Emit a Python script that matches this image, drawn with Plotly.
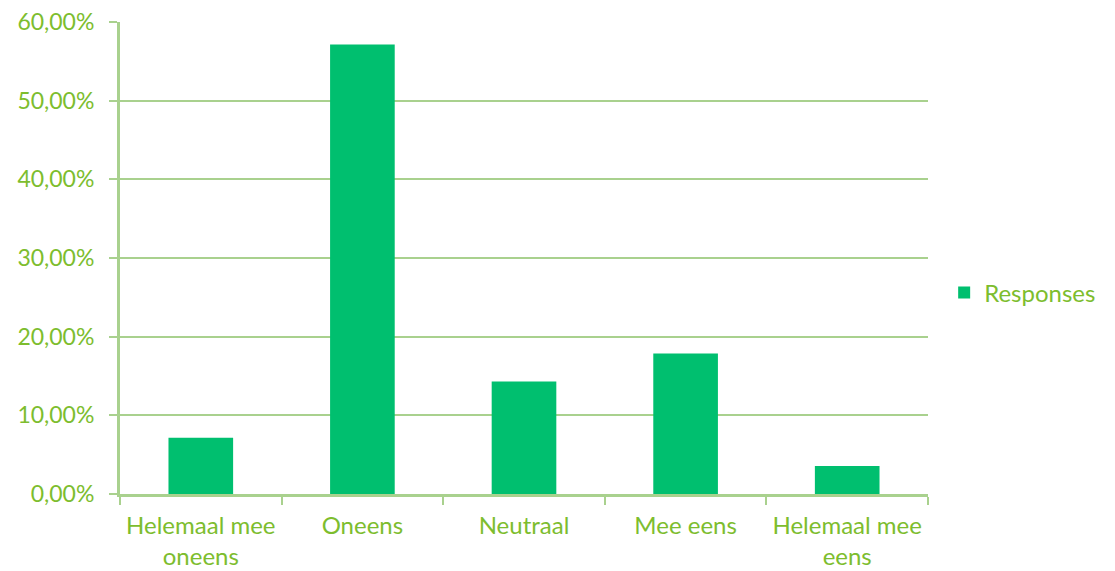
import plotly.graph_objects as go

categories = ["Helemaal mee<br>oneens", "Oneens", "Neutraal", "Mee eens", "Helemaal mee<br>eens"]
values = [0.0714, 0.5714, 0.1429, 0.1786, 0.0357]
series_name = "Responses"
y_ticks = [0, 0.1, 0.2, 0.3, 0.4, 0.5, 0.6]
y_tick_labels = ["0,00%", "10,00%", "20,00%", "30,00%", "40,00%", "50,00%", "60,00%"]

text_color = "#7dbd2e"
line_color = "#a9d18e"
bar_color = "#00bf6f"
font_family = "Lato, Carlito, Calibri, sans-serif"

fig = go.Figure()
fig.add_trace(go.Bar(
    x=categories, y=values, name=series_name,
    marker=dict(color=bar_color, line=dict(width=0)),
    width=0.4, showlegend=True,
))

fig.update_layout(
    width=1115, height=571,
    margin=dict(l=120, r=187, t=22, b=77),
    paper_bgcolor="white", plot_bgcolor="white",
    font=dict(family=font_family, size=24, color=text_color),
    showlegend=True,
    legend=dict(x=1.02, y=0.426, xanchor="left", yanchor="middle",
                font=dict(size=24, color=text_color), itemwidth=30),
    bargap=0.6,
)
fig.update_xaxes(
    type="category", tickson="boundaries", ticks="outside", ticklen=8,
    tickcolor=line_color, tickwidth=2,
    showline=True, linecolor=line_color, linewidth=3,
    showgrid=False, tickfont=dict(size=24, color=text_color),
    ticklabelstandoff=8, automargin=False,
)
fig.update_yaxes(
    range=[0, 0.6], tickvals=y_ticks, ticktext=y_tick_labels,
    ticks="outside", ticklen=8, tickcolor=line_color, tickwidth=2,
    showline=True, linecolor=line_color, linewidth=3,
    showgrid=True, gridcolor=line_color, gridwidth=2,
    zeroline=False, tickfont=dict(size=23, color=text_color),
    ticklabelstandoff=10, automargin=False,
)

fig.write_html("out.html", config={"displayModeBar": False},
               post_script="document.body.style.margin='0';document.body.style.overflow='hidden';")
